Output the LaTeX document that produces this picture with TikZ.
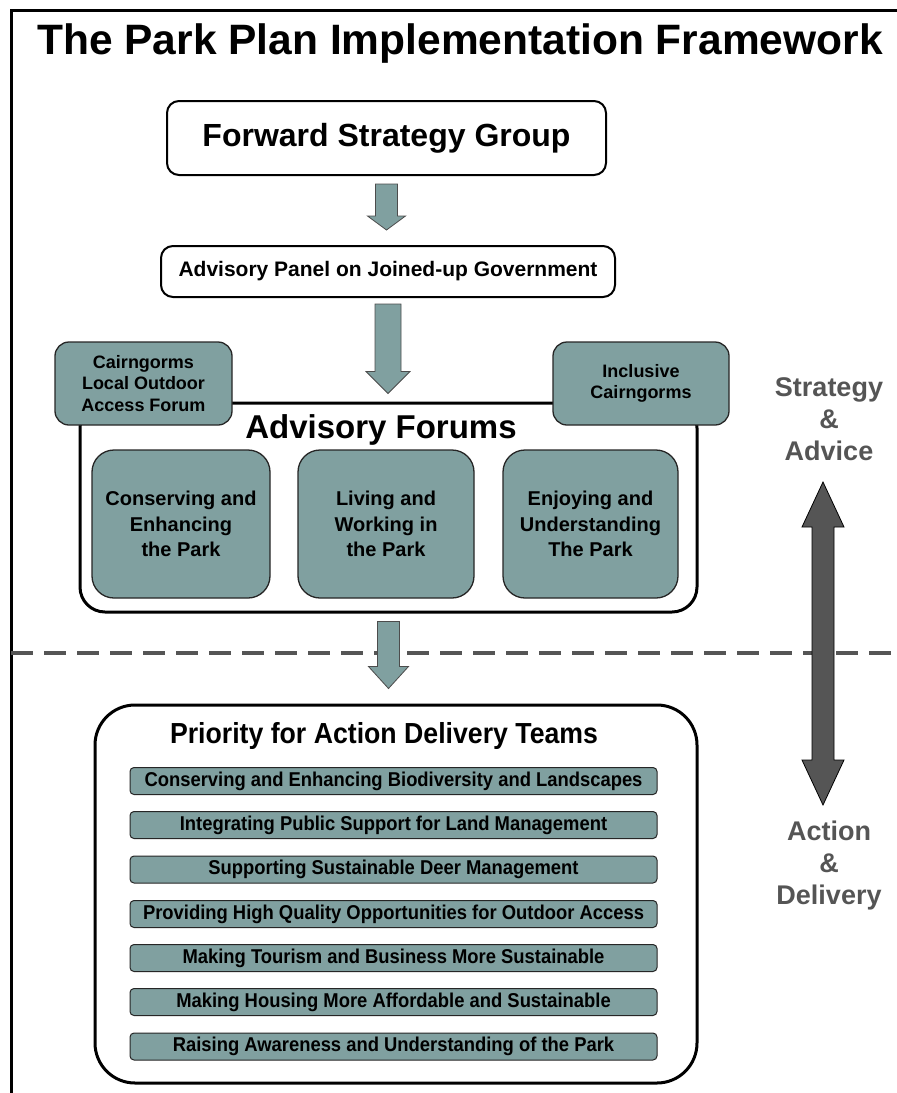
\documentclass[tikz,border=0pt]{standalone}
\usepackage{fontspec}
\setmainfont{Liberation Sans}
\newfontfamily\narrowfont[FakeStretch=0.92]{Liberation Sans}
\usetikzlibrary{calc}

\definecolor{parkteal}{RGB}{128,160,160}
\definecolor{sidegrey}{RGB}{85,85,85}

\tikzset{
  whitebox/.style={draw=black, line width=2pt, fill=white, rounded corners=12pt, inner sep=0pt, font=\bfseries},
  forumbox/.style={draw=black!85, line width=1.3pt, fill=parkteal, rounded corners=22pt, inner sep=0pt,
    align=center, minimum height=148pt, font=\bfseries\fontsize{20}{25.5}\selectfont},
  sidebox/.style={draw=black!85, line width=1.3pt, fill=parkteal, rounded corners=14pt, inner sep=0pt,
    align=center, minimum width=177pt, minimum height=83pt, font=\bfseries\fontsize{18}{21.5}\selectfont},
  teambar/.style={draw=black!85, line width=1pt, fill=parkteal, rounded corners=4pt, inner sep=0pt,
    minimum width=527pt, minimum height=27pt, font=\narrowfont\bfseries\fontsize{20}{24}\selectfont},
  sidelabel/.style={text=sidegrey, align=center, font=\bfseries\fontsize{27}{32}\selectfont},
  blockfill/.style={fill=parkteal, draw=black!70, line width=0.8pt},
}

% fat downward arrow: from, to, shaft half width, head half width, head length
\newcommand{\blockarrow}[5]{%
  \filldraw[blockfill] let \p1=(#1), \p2=(#2) in
    (\x1-#3pt,\y1) -- (\x1+#3pt,\y1) -- (\x1+#3pt,\y2+#5pt) -- (\x1+#4pt,\y2+#5pt)
    -- (\x1,\y2) -- (\x1-#4pt,\y2+#5pt) -- (\x1-#3pt,\y2+#5pt) -- cycle;
}

\begin{document}
\begin{tikzpicture}[x=1pt, y=-1pt]
    \useasboundingbox (0,0) rectangle (897,1093);

    % frame and title
    \draw[line width=3pt] (11,1093) -- (11,10) -- (897,10);
    \node (title) at (460,44) {\bfseries\fontsize{42.5}{50}\selectfont The Park Plan Implementation Framework};

    % strategy part
    \node[whitebox, minimum width=439pt, minimum height=74pt, font=\bfseries\fontsize{32}{38}\selectfont]
        (fsg) at (386.5,138) {Forward Strategy Group};
    \node[whitebox, minimum width=454pt, minimum height=51pt, font=\bfseries\fontsize{21}{25}\selectfont]
        (panel) at (388,271.5) {Advisory Panel on Joined-up Government};

    \node[draw=black, line width=3pt, fill=white, rounded corners=25pt, minimum width=617pt, minimum height=209pt]
        (forums) at (388.5,507.5) {};
    \node[sidebox] (cairn) at (143.5,383.5) {Cairngorms\\Local Outdoor\\Access Forum};
    \node[sidebox, minimum width=176pt] (inclusive) at (641,383.5) {Inclusive\\Cairngorms};
    \node (forumstitle) at (381,430) {\bfseries\fontsize{33}{38}\selectfont Advisory Forums};

    \node[forumbox, minimum width=178pt] (conserving) at (181,524) {Conserving and\\Enhancing\\the Park};
    \node[forumbox, minimum width=176pt] (living) at (386,524) {Living and\\Working in\\the Park};
    \node[forumbox, minimum width=175pt] (enjoying) at (590.5,524) {Enjoying and\\Understanding\\The Park};

    % split between the two levels
    \draw[sidegrey, line width=4pt, dash pattern=on 22pt off 11pt] (11,653) -- (897,653);

    % delivery part
    \node[draw=black, line width=3pt, fill=white, rounded corners=40pt, minimum width=602pt, minimum height=378pt]
        (priority) at (396,894) {};
    \node (prioritytitle) at (384,736) {\narrowfont\bfseries\fontsize{29}{34}\selectfont Priority for Action Delivery Teams};

    \node[teambar] (team1) at (393.5,781) {Conserving and Enhancing Biodiversity and Landscapes};
    \node[teambar] (team2) at (393.5,825) {Integrating Public Support for Land Management};
    \node[teambar] (team3) at (393.5,869.5) {Supporting Sustainable Deer Management};
    \node[teambar] (team4) at (393.5,914) {Providing High Quality Opportunities for Outdoor Access};
    \node[teambar] (team5) at (393.5,958) {Making Tourism and Business More Sustainable};
    \node[teambar] (team6) at (393.5,1002) {Making Housing More Affordable and Sustainable};
    \node[teambar] (team7) at (393.5,1046.5) {Raising Awareness and Understanding of the Park};

    % arrows between the levels
    \blockarrow{[yshift=-8pt]fsg.south}{[yshift=15pt]panel.north}{11}{19}{14}
    \blockarrow{[yshift=-6pt]panel.south}{[yshift=8pt]forums.north}{13}{22}{22}
    \blockarrow{[yshift=-8pt]forums.south}{[yshift=15pt]priority.north}{11}{20}{22}

    % side labels and double arrow
    \node[sidelabel] (strategy) at (829,419) {Strategy\\\&\\Advice};
    \node[sidelabel] (action) at (829,866) {Action\\\&\\Delivery};
    \coordinate (uptip) at (823,482);
    \coordinate (downtip) at (823,805);
    \filldraw[fill=sidegrey, draw=black, line width=0.8pt] let \p1=(uptip), \p2=(downtip) in
        (\x1,\y1) -- (\x1+21pt,\y1-45pt) -- (\x1+11pt,\y1-45pt) -- (\x1+11pt,\y2+45pt)
        -- (\x1+21pt,\y2+45pt) -- (\x2,\y2) -- (\x1-21pt,\y2+45pt) -- (\x1-11pt,\y2+45pt)
        -- (\x1-11pt,\y1-45pt) -- (\x1-21pt,\y1-45pt) -- cycle;
\end{tikzpicture}
\end{document}
